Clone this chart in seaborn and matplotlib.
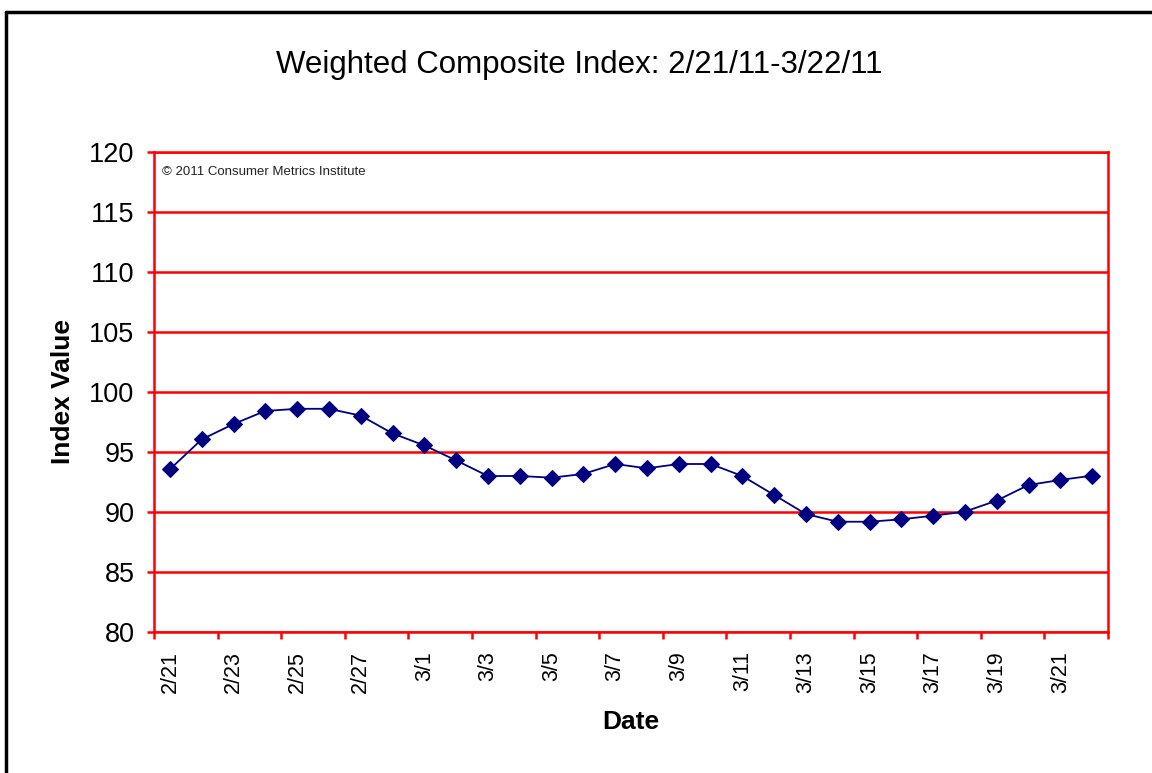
import matplotlib
matplotlib.use("Agg")
import matplotlib.pyplot as plt
from matplotlib.lines import Line2D
import seaborn as sns
import pandas as pd

# daily dates and index values
dates = ["2/21", "2/22", "2/23", "2/24", "2/25", "2/26", "2/27", "2/28",
         "3/1", "3/2", "3/3", "3/4", "3/5", "3/6", "3/7", "3/8", "3/9", "3/10",
         "3/11", "3/12", "3/13", "3/14", "3/15", "3/16", "3/17", "3/18", "3/19",
         "3/20", "3/21", "3/22"]
index_values = [93.56, 96.05, 97.33, 98.42, 98.6, 98.6, 98.03, 96.55,
                95.55, 94.3, 93.0, 93.0, 92.86, 93.17, 94.0, 93.64, 94.0, 94.0,
                93.0, 91.42, 89.83, 89.19, 89.19, 89.39, 89.69, 90.03, 90.95,
                92.25, 92.67, 93.03]
y_ticks = [80, 85, 90, 95, 100, 105, 110, 115, 120]

df = pd.DataFrame({"Date": dates, "Value": index_values})
df["pos"] = range(len(df))

sns.set_style("white")
plt.rcParams['font.family'] = ['Liberation Sans', 'DejaVu Sans']
plt.rcParams['text.color'] = 'black'
plt.rcParams['axes.labelcolor'] = 'black'
plt.rcParams['xtick.color'] = 'black'
plt.rcParams['ytick.color'] = 'black'

fig = plt.figure(figsize=(11.52, 7.73), dpi=100)
ax = fig.add_axes([154 / 1152, 1 - 632 / 773, 954 / 1152, 480 / 773])

sns.lineplot(data=df, x="pos", y="Value", ax=ax, color="#000080", linewidth=1.3,
             marker="D", markersize=8, markeredgecolor="#000080", markerfacecolor="#000080")

ax.set_xlim(-0.5, len(dates) - 0.5)
ax.set_ylim(80, 120)
ax.set_yticks(y_ticks)
ax.set_yticklabels([str(v) for v in y_ticks], fontsize=19.5)
ax.yaxis.grid(True, color="#FF0000", linewidth=1.8)
ax.set_axisbelow(True)

# ticks between categories, labels at every other category
ax.set_xticks([i - 0.5 for i in range(0, len(dates) + 1, 2)])
ax.set_xticklabels([])
ax.set_xticks(list(range(0, len(dates), 2)), minor=True)
ax.set_xticklabels(dates[::2], minor=True, rotation=90, fontsize=15.5)
ax.tick_params(axis="x", which="minor", length=0, pad=14)
ax.tick_params(axis="x", which="major", length=5, width=1.8, color="#FF0000", direction="out", bottom=True)
ax.tick_params(axis="y", length=5, width=1.8, color="#FF0000", labelcolor="black",
               direction="out", left=True, pad=9)

for s in ax.spines.values():
    s.set_color("#FF0000")
    s.set_linewidth(1.8)

ax.set_xlabel("Date", fontsize=19, fontweight="bold", labelpad=12)
ax.set_ylabel("Index Value", fontsize=19, fontweight="bold", labelpad=10)
fig.text(0.503, 1 - 65 / 773, "Weighted Composite Index: 2/21/11-3/22/11",
         ha="center", va="center", fontsize=22.5, fontweight="medium")
ax.text(0.008, 0.97, "\u00a9 2011 Consumer Metrics Institute", transform=ax.transAxes,
        fontsize=9.5, ha="left", va="top", color="#222222")

# outer chart border (top and left visible)
fig.add_artist(Line2D([6 / 1152, 6 / 1152], [0, 1 - 11.5 / 773], transform=fig.transFigure,
                      color="black", linewidth=2.5))
fig.add_artist(Line2D([6 / 1152, 1], [1 - 11.5 / 773, 1 - 11.5 / 773], transform=fig.transFigure,
                      color="black", linewidth=2.5))

fig.savefig("out.png", dpi=100)
